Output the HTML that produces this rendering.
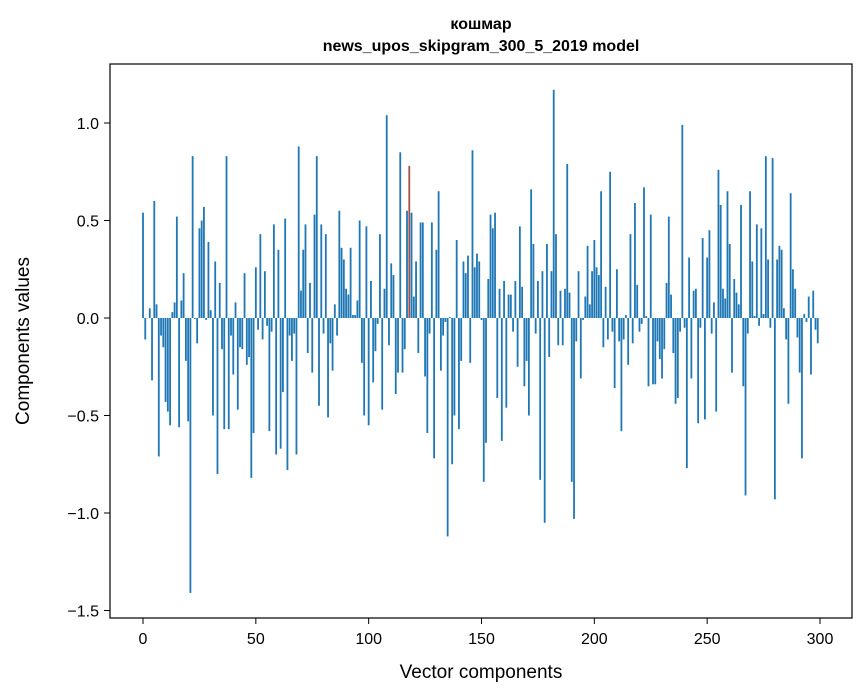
<!DOCTYPE html>
<html><head><meta charset="utf-8"><style>
body{margin:0;background:#fff;}
svg{display:block;font-family:"Liberation Sans","DejaVu Sans",sans-serif;}
</style></head><body>
<svg id="chart" width="867" height="696">
<text x="481" y="29" text-anchor="middle" font-size="16" font-weight="bold">кошмар</text>
<text x="481" y="51" text-anchor="middle" font-size="16" font-weight="bold">news_upos_skipgram_300_5_2019 model</text>
<g id="bars"></g>
<g id="axes"></g>
<rect x="110" y="64" width="742" height="554" fill="none" stroke="#000" stroke-width="1.2"/>
<text x="481" y="678" text-anchor="middle" font-size="19">Vector components</text>
<text transform="translate(29,341) rotate(-90)" text-anchor="middle" font-size="19">Components values</text>
</svg>
<script>
const values = [0.54,-0.11,0,0.05,-0.32,0.60,0.07,-0.71,-0.09,-0.15,-0.43,-0.48,-0.55,0.03,0.08,0.52,-0.56,0.09,0.23,-0.22,
-0.53,-1.41,0.83,-0.005,-0.13,0.46,0.50,0.57,-0.01,0.39,0.04,-0.50,0.29,-0.80,0.18,-0.16,-0.57,0.83,-0.57,-0.09,
-0.29,0.08,-0.47,-0.15,-0.16,0.23,-0.24,-0.20,-0.82,-0.59,0.26,-0.06,0.43,-0.11,0.24,-0.04,-0.58,-0.07,0.48,-0.70,
0.35,-0.67,-0.38,0.51,-0.78,-0.09,-0.22,-0.08,-0.70,0.88,0.14,0.35,0.48,-0.18,0.18,-0.28,0.53,0.83,-0.45,0.48,
-0.08,0.43,-0.51,-0.13,-0.27,0.07,-0.09,0.55,0.36,0.30,0.15,0.12,0.36,0.015,0.015,0.09,0.50,-0.23,-0.50,0.47,
-0.55,0.19,-0.33,-0.17,-0.03,0.43,-0.47,0.15,1.04,-0.14,0.28,0.22,-0.39,-0.28,0.85,-0.28,-0.16,0.55,0.78,0.54,
0.11,0.29,-0.18,0.49,0.49,-0.30,-0.59,-0.08,0.49,-0.72,0.35,0.65,-0.27,-0.09,-0.02,-1.12,0.005,-0.75,-0.50,0.40,
-0.57,-0.22,0.29,0.23,0.32,-0.23,0.86,0.26,0.33,0.29,-0.01,-0.84,-0.64,0.20,0.53,0.46,0.54,-0.41,0.15,-0.63,
0.19,-0.46,0.12,0.12,-0.07,0.19,-0.25,0.47,0.16,-0.35,-0.22,-0.50,0.66,0.38,-0.08,0.19,-0.83,0.24,-1.05,0.38,
-0.20,0.24,1.17,0.43,-0.14,0.14,-0.14,0.15,0.79,0.13,-0.84,-1.03,-0.12,0.24,-0.31,-0.01,0.11,0.37,0.07,0.24,
0.40,0.26,0.22,0.65,-0.15,0.16,-0.11,0.75,-0.07,-0.36,0.25,-0.12,-0.58,-0.11,0.015,-0.24,0.43,-0.13,0.59,0.17,
-0.07,-0.03,0.67,0.01,-0.35,0.53,-0.34,-0.34,-0.12,-0.21,-0.31,-0.16,0.18,0.52,0.12,-0.18,-0.44,-0.41,-0.07,0.99,
-0.05,-0.77,0.31,-0.31,0.14,0.15,-0.54,-0.05,0.41,-0.52,0.31,0.45,-0.08,0.08,-0.48,0.76,0.58,0.15,0.10,0.65,
0.38,-0.28,0.20,0.13,0.07,0.58,-0.35,-0.91,-0.08,0.65,0.29,0.01,0.48,-0.04,0.46,0.02,0.83,0.30,-0.05,0.82,
-0.93,0.30,0.37,0.35,0.05,-0.11,-0.44,0.64,0.25,0.15,-0.10,-0.28,-0.72,0.02,-0.02,0.11,-0.29,0.14,-0.06,-0.13];
const highlightIndex = [118];
const xTicks = [0,50,100,150,200,250,300];
const yTicks = [-1.5,-1.0,-0.5,0.0,0.5,1.0];
const yTickLabels = ["\u22121.5","\u22121.0","\u22120.5","0.0","0.5","1.0"];

const NS="http://www.w3.org/2000/svg";
const X0=143, XS=(820-143)/300, Y0=318, YS=195;
function xs(v){return X0+v*XS;}
function ys(v){return Y0-v*YS;}
const bars=document.getElementById('bars');
values.forEach((v,i)=>{
  const r=document.createElementNS(NS,'rect');
  const y1=ys(Math.max(v,0)), y2=ys(Math.min(v,0));
  r.setAttribute('x',xs(i-0.4));
  r.setAttribute('width',0.8*XS);
  r.setAttribute('y',y1);
  r.setAttribute('height',Math.max(y2-y1,0.3));
  r.setAttribute('fill',highlightIndex.includes(i)?'#a0524a':'#1f77b4');
  
  
  bars.appendChild(r);
});
const ax=document.getElementById('axes');
xTicks.forEach(t=>{
  const l=document.createElementNS(NS,'line');
  l.setAttribute('x1',xs(t));l.setAttribute('x2',xs(t));
  l.setAttribute('y1',618);l.setAttribute('y2',624);l.setAttribute('stroke','#000');
  
  
  ax.appendChild(l);
  const tx=document.createElementNS(NS,'text');
  tx.setAttribute('x',xs(t));tx.setAttribute('y',644);
  tx.setAttribute('text-anchor','middle');tx.setAttribute('font-size','16');
  tx.textContent=String(t);
  
  
  ax.appendChild(tx);
});
yTicks.forEach((t,k)=>{
  const l=document.createElementNS(NS,'line');
  l.setAttribute('x1',104);l.setAttribute('x2',110);
  l.setAttribute('y1',ys(t));l.setAttribute('y2',ys(t));l.setAttribute('stroke','#000');
  
  
  ax.appendChild(l);
  const tx=document.createElementNS(NS,'text');
  tx.setAttribute('x',99);tx.setAttribute('y',ys(t)+6);
  tx.setAttribute('text-anchor','end');tx.setAttribute('font-size','16');
  tx.textContent=yTickLabels[k];
  
  
  ax.appendChild(tx);
});
</script>
</body></html>
